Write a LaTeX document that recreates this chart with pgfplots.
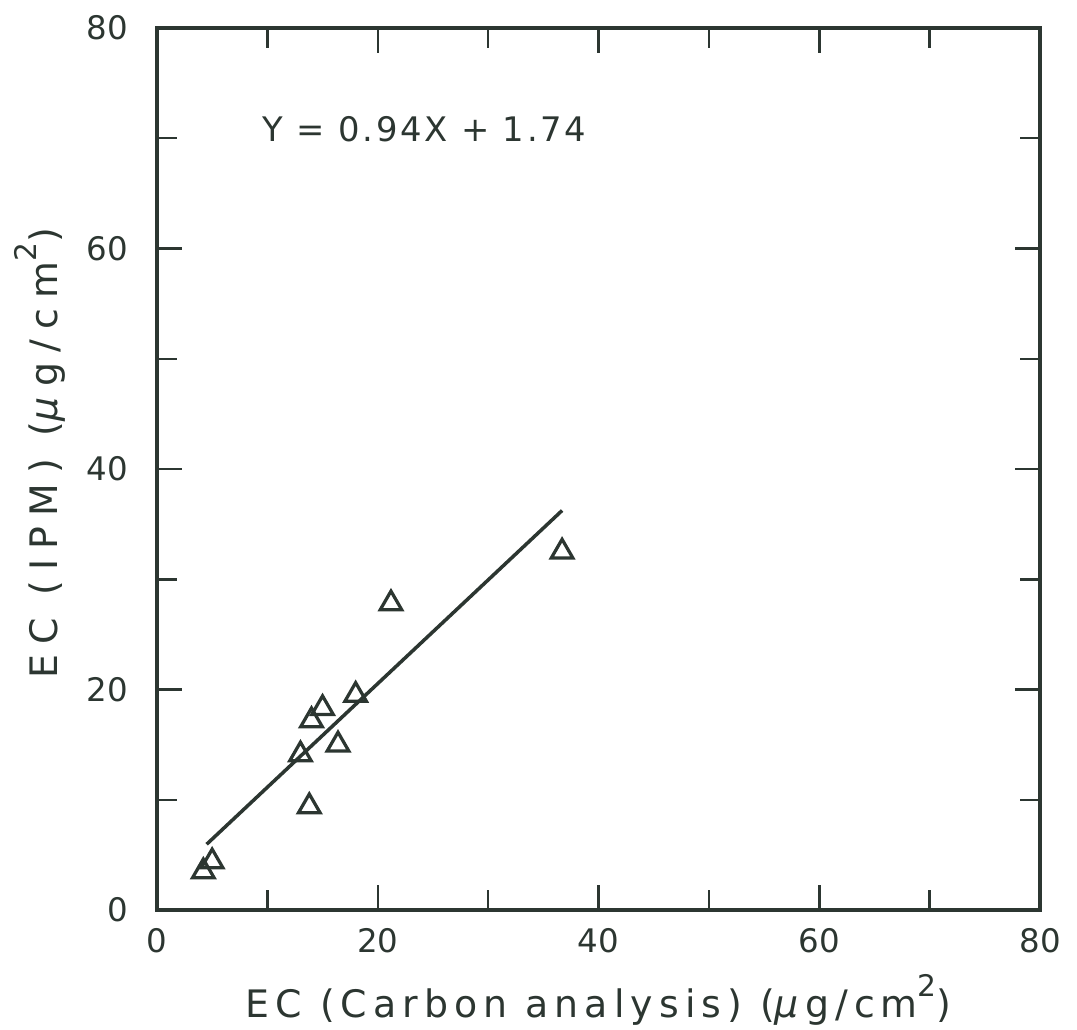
\documentclass[border=0pt]{standalone}
\usepackage{fontspec}
\setmainfont{DejaVu Sans}
\newfontfamily\lbl{DejaVu Sans}[LetterSpace=8]
\newfontfamily\xlbl{DejaVu Sans}[LetterSpace=16]
\newfontfamily\ylbl{DejaVu Sans}[LetterSpace=27]
\newcommand\sq{\raisebox{0.55em}{\fontsize{11}{11}\selectfont 2}}
\usepackage{pgfplots}
\pgfplotsset{compat=1.18}
\definecolor{ink}{RGB}{44,54,49}

\begin{document}
\begin{tikzpicture}
\path[use as bounding box] (-2.04,-1.547) rectangle (11.958,11.829);
\begin{axis}[
    at={(0,0)}, anchor=south west,
    scale only axis,
    width=11.478cm, height=11.465cm,
    xmin=0, xmax=80, ymin=0, ymax=80,
    xtick={0,20,...,80}, ytick={0,20,...,80},
    minor xtick={10,30,50,70}, minor ytick={10,30,50,70},
    tick align=inside,
    major tick length=0.33cm, minor tick length=0.26cm,
    axis line style={line width=1.6pt},
    every tick/.style={line width=0.9pt},
    color=ink,
    font=\fontsize{12}{14}\selectfont,
    /pgf/number format/assume math mode=true,
    xticklabel style={yshift=-0.12cm},
    yticklabel style={xshift=-0.25cm},
    xlabel={\xlbl\fontsize{14}{16}\selectfont EC (Carbon analysis) (\textit{μ}g/cm\sq)},
    ylabel={\ylbl\fontsize{14}{16}\selectfont EC (IPM) (\textit{μ}g/cm\sq)},
    xlabel style={at={(axis description cs:0.5,-0.102)}, anchor=center},
    ylabel style={at={(axis description cs:-0.1324,0.518)}, anchor=center},
    clip=false,
]
\addplot[only marks, mark=triangle, mark size=4.6pt, mark options={line width=1.2pt, ink}]
coordinates {
    (4.2,3.5) (5.0,4.4) (13.8,9.4) (13.0,14.1) (14.0,17.2)
    (15.0,18.3) (16.4,15.0) (18.0,19.5) (21.2,27.8) (36.7,32.5)
};
\addplot[line width=1.3pt, ink] coordinates {(4.5,5.97) (36.7,36.24)};
\node[anchor=west, ink, font=\lbl\fontsize{12.5}{15}\selectfont] at (axis cs:8.7,70.8) {Y = 0.94X + 1.74};
\end{axis}
\end{tikzpicture}
\end{document}
